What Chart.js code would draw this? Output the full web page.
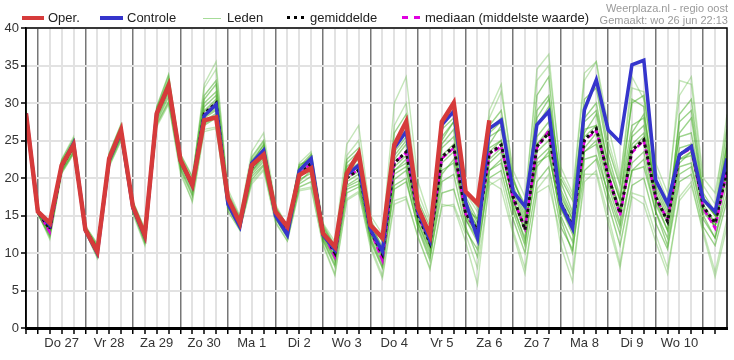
<!DOCTYPE html>
<html>
<head>
<meta charset="utf-8">
<script src="https://cdn.jsdelivr.net/npm/chart.js@4.4.1/dist/chart.umd.min.js"></script>
<style>
  html, body { margin: 0; padding: 0; background: #fff; }
  #wrap { position: relative; width: 734px; height: 360px; font-family: "Liberation Sans", Arial, sans-serif; }
  #c { position: absolute; left: 0; top: 0; }
  .lg { position: absolute; top: 10px; font-size: 13px; color: #222; line-height: 16px; white-space: nowrap; }
  .sw { position: absolute; }
  .src { position: absolute; right: 6px; font-size: 11px; color: #9a9a9a; line-height: 12px; white-space: nowrap; }
</style>
</head>
<body>
<div id="wrap">
  <canvas id="c" width="734" height="360"></canvas>
  <div class="sw" style="left:22px;top:16px;width:22px;height:4px;background:#d63b3b"></div>
  <div class="lg" style="left:48px">Oper.</div>
  <div class="sw" style="left:100px;top:16px;width:23px;height:4px;background:#3535cc"></div>
  <div class="lg" style="left:127px">Controle</div>
  <div class="sw" style="left:203px;top:18px;width:18px;height:1px;background:#a6dc98"></div>
  <div class="lg" style="left:227px">Leden</div>
  <div class="sw" style="left:287px;top:16px;width:17px;border-top:3px dotted #000"></div>
  <div class="lg" style="left:310px">gemiddelde</div>
  <div class="sw" style="left:402px;top:16px;width:18px;border-top:3px dashed #e000e0"></div>
  <div class="lg" style="left:425px">mediaan (middelste waarde)</div>
  <div class="src" style="top:2px">Weerplaza.nl - regio oost</div>
  <div class="src" style="top:14px">Gemaakt: wo 26 jun 22:13</div>
</div>
<script>
// 6-hourly steps from wo 26 jun 18:00 to do 11 jul 12:00 (index 0..59)
const dayLabels = ["Do 27", "Vr 28", "Za 29", "Zo 30", "Ma 1", "Di 2", "Wo 3", "Do 4", "Vr 5", "Za 6", "Zo 7", "Ma 8", "Di 9", "Wo 10"];
const yTicks = [0, 5, 10, 15, 20, 25, 30, 35, 40];

const oper = [28.6, 15.5,14.0,21.7,24.4, 13.1,10.2,22.6,26.4, 16.2,12.4,28.6,32.3, 22.4,19.1,27.7,28.1,
  17.3,14.0,21.7,23.1, 15.5,13.5,20.4,21.3, 12.6,10.8,20.6,23.3, 13.7,12.0,24.4,27.5, 16.0,12.4,27.5,30.0,
  18.2,16.6,27.7];

const controle = [28.6, 15.5,13.7,21.6,24.6, 13.0,10.0,22.4,26.2, 16.0,12.2,28.6,32.2, 22.3,19.0,28.3,29.8,
  16.5,13.5,22.0,23.7, 15.0,12.4,21.0,22.6, 12.4,10.4,20.4,21.7, 13.1,10.2,24.0,26.2, 15.5,11.7,27.1,28.9,
  16.8,12.0,26.6,27.7, 18.2,16.2,27.1,28.9, 16.6,13.3,29.1,33.1, 26.4,24.8,35.1,35.7, 19.7,16.6,23.1,24.2,
  17.1,15.5,22.6];

const gemiddelde = [28.6, 15.5,13.2,21.5,24.3, 13.2,10.4,22.5,26.2, 16.3,12.3,28.5,32.2, 22.3,19.0,28.6,30.0,
  16.9,14.0,21.4,23.4, 15.4,12.9,20.4,22.0, 12.8,10.0,20.0,21.1, 13.0,9.8,22.0,23.5, 15.0,11.3,22.8,24.2,
  15.3,13.1,23.3,24.4, 17.5,13.1,24.2,26.0, 16.6,13.7,25.1,26.6, 20.2,15.3,23.7,25.1, 17.5,14.2,23.1,24.2,
  16.2,14.0,21.0];

const mediaan = [28.6, 15.5,12.8,21.5,24.3, 13.2,10.3,22.5,26.2, 16.3,12.3,28.5,32.1, 22.3,19.0,28.5,29.8,
  16.9,14.0,21.4,23.4, 15.4,12.9,20.4,22.0, 12.7,9.5,20.0,21.2, 13.0,9.0,22.0,23.4, 15.0,11.5,22.6,24.0,
  15.2,12.8,23.2,24.2, 17.3,13.3,24.0,26.3, 16.5,13.5,25.0,26.3, 20.5,15.0,23.4,25.0, 17.3,14.5,23.0,24.0,
  16.0,13.3,21.0];

// ensemble members; the last four are the outliers, drawn paler
const leden = [
  [29.0, 15.7,13.6,22.0,25.0, 13.4,10.8,22.9,26.8, 16.6,12.8,29.2,33.0, 22.8,19.5,30.5,32.5, 17.5,14.5,22.8,25.0,
   16.0,13.2,21.2,23.0, 13.5,10.8,22.5,24.0, 14.0,10.5,26.0,28.5, 16.5,12.5,25.0,27.5, 17.0,14.0,26.5,28.0,
   19.0,15.0,29.0,31.0, 19.5,15.5,30.5,32.0, 23.0,17.5,27.0,28.0, 18.5,15.0,27.5,29.0, 17.5,15.0,24.0],
  [28.5, 15.2,12.2,20.8,23.4, 12.9,9.6,21.8,25.3, 15.6,11.4,27.2,30.2, 21.2,17.6,27.0,28.0, 16.0,13.3,19.8,21.6,
   14.6,12.0,18.8,19.5, 11.8,8.5,18.0,18.8, 11.5,8.0,18.5,19.5, 13.5,9.5,18.0,18.5, 13.0,10.5,20.0,21.0,
   14.5,10.0,19.5,21.5, 13.5,10.5,21.0,22.5, 16.5,11.0,19.0,20.0, 14.0,10.5,19.5,20.5, 13.5,11.0,17.0],
  [28.8, 15.6,13.5,21.8,24.6, 13.3,10.6,22.8,26.5, 16.4,12.6,28.8,32.8, 22.5,19.2,29.5,31.0, 17.0,14.2,21.8,24.0,
   15.6,13.1,21.0,22.8, 13.0,10.4,21.0,22.5, 13.5,10.2,23.5,25.5, 15.5,12.0,24.5,26.5, 16.0,14.5,26.0,27.5,
   18.0,14.0,22.0,23.0, 16.0,12.5,23.5,25.0, 19.0,14.0,26.0,28.5, 19.5,16.0,25.5,26.0, 17.0,15.0,23.0],
  [28.6, 15.4,12.8,21.2,24.0, 13.0,10.2,22.2,25.8, 16.0,12.0,28.0,31.5, 22.0,18.6,28.0,29.0, 16.6,13.6,20.8,22.5,
   15.0,12.6,19.5,21.0, 12.2,9.2,19.0,20.0, 12.5,9.0,20.5,21.5, 14.0,10.5,21.0,22.0, 14.5,12.0,24.5,27.0,
   19.5,16.5,28.0,30.5, 20.0,17.0,29.5,33.0, 24.0,19.0,30.0,31.0, 20.0,16.5,24.0,24.5, 16.0,13.5,20.5],
  [28.7, 15.5,13.0,21.4,24.2, 13.1,10.5,22.5,26.0, 16.2,12.2,28.4,32.0, 22.0,19.0,28.3,29.5, 16.8,13.8,21.0,22.8,
   15.2,12.8,20.5,21.5, 12.5,9.6,20.5,21.5, 12.8,9.5,21.5,23.0, 15.0,11.0,23.0,24.5, 14.5,11.5,21.0,22.0,
   16.0,12.0,25.5,27.5, 17.0,14.0,26.5,27.0, 20.5,16.0,22.0,23.5, 16.5,13.0,22.0,23.5, 15.5,13.5,22.0],
  [28.9, 15.6,13.4,22.2,24.8, 13.4,10.9,23.0,26.6, 16.5,12.6,29.0,32.6, 22.6,19.4,30.0,31.5, 17.3,14.4,22.3,24.3,
   15.8,13.4,21.5,23.2, 13.2,10.6,22.0,23.5, 13.8,10.8,24.5,26.5, 16.0,12.2,25.5,27.5, 16.5,13.5,24.0,25.0,
   16.5,11.5,21.5,23.5, 15.0,11.5,22.5,23.0, 18.0,13.5,21.0,22.5, 15.5,12.0,21.5,22.0, 15.0,12.0,19.5],
  [28.6, 15.4,12.6,21.0,23.8, 13.0,10.0,22.0,25.6, 16.0,11.8,27.8,31.2, 21.8,18.3,27.6,28.6, 16.4,13.5,20.5,22.2,
   14.8,12.4,19.8,20.6, 12.0,9.0,18.8,19.6, 12.0,8.6,19.8,21.0, 14.0,10.0,20.5,22.5, 15.5,12.5,25.5,26.5,
   18.5,14.5,31.0,33.5, 18.0,14.5,28.0,30.0, 21.5,17.0,30.5,29.5, 17.0,13.0,28.5,30.5, 18.0,15.5,26.5],
  [29.1, 15.7,13.7,22.4,25.2, 13.6,11.2,23.3,27.2, 16.9,13.2,29.5,33.8, 23.2,20.2,31.0,33.0, 18.0,14.8,22.0,24.5,
   16.2,13.6,21.8,22.5, 13.8,11.0,21.5,23.0, 14.2,11.5,23.0,25.0, 17.0,13.5,26.5,28.0, 17.5,14.5,22.5,24.0,
   17.0,13.5,24.5,26.0, 17.5,14.5,26.0,28.5, 20.5,15.5,24.5,26.0, 19.0,15.5,22.5,23.0, 16.5,14.0,24.5],
  [28.5, 15.2,12.4,20.9,23.5, 12.9,9.8,22.0,25.5, 15.8,11.6,27.5,30.8, 21.5,17.9,27.2,28.2, 16.2,13.2,20.2,21.8,
   14.6,12.2,19.2,20.2, 11.6,8.2,18.5,19.2, 11.8,8.2,19.0,20.0, 13.2,9.0,19.5,20.5, 13.5,9.5,21.0,22.5,
   15.5,11.0,22.5,24.0, 14.5,10.0,23.5,24.5, 17.5,12.5,21.0,21.5, 15.5,11.0,20.5,21.5, 14.5,12.0,18.0],
  [28.7, 15.5,13.2,21.6,24.4, 13.2,10.6,22.6,26.3, 16.4,12.4,28.6,32.4, 22.4,19.1,29.0,30.5, 17.1,14.1,21.6,23.6,
   15.5,13.0,20.8,22.4, 12.9,10.2,20.8,22.0, 13.3,10.0,22.5,24.5, 15.5,11.5,24.0,25.5, 16.0,13.5,27.0,29.0,
   20.0,15.5,27.0,29.5, 18.5,15.0,27.5,29.0, 22.0,17.0,25.5,27.0, 18.0,14.5,26.0,28.0, 17.0,15.0,25.0],
  [28.6, 15.4,12.9,21.3,24.1, 13.1,10.3,22.3,26.0, 16.1,12.1,28.2,31.8, 22.2,18.8,28.2,29.2, 16.7,13.7,20.9,23.0,
   15.1,12.7,20.0,21.8, 12.4,9.5,20.0,20.8, 12.6,9.4,21.0,22.5, 14.5,10.8,22.0,23.5, 14.8,12.5,22.0,23.5,
   17.0,13.0,23.5,25.0, 16.0,13.0,24.0,26.0, 19.5,15.0,23.5,25.0, 17.0,14.5,23.0,24.0, 16.0,14.0,21.0],
  [28.6, 15.5,13.1,21.5,24.3, 13.2,10.4,22.4,26.1, 16.3,12.3,28.6,32.2, 22.3,18.9,28.8,30.2, 16.9,14.0,21.3,23.3,
   15.3,12.9,20.3,21.9, 12.7,10.0,19.5,20.5, 12.8,9.8,21.0,22.0, 15.5,11.0,22.5,24.0, 15.0,12.5,23.5,25.0,
   17.0,13.0,24.5,26.5, 17.0,13.5,25.5,27.0, 20.5,15.5,24.0,25.5, 17.0,14.0,22.5,23.5, 16.0,13.5,21.5],
  [29.3, 15.8,13.9,22.5,25.5, 13.5,11.0,23.2,27.0, 16.8,13.0,29.3,33.5, 23.0,20.0,32.0,34.5, 18.5,15.0,23.5,26.0,
   16.5,13.5,22.0,23.5, 14.0,11.5,24.5,27.0, 15.0,12.5,30.0,33.5, 19.5,14.5,27.5,29.5, 18.0,15.5,28.0,31.5,
   21.0,17.5,33.0,35.0, 21.5,18.0,34.0,35.5, 27.0,20.0,32.0,31.5, 22.0,18.0,31.0,33.5, 20.0,18.0,27.0],
  [28.4, 15.3,12.0,20.6,23.2, 12.8,9.3,21.6,25.0, 15.2,11.0,26.8,29.8, 20.5,17.0,26.5,26.8, 15.6,13.0,19.5,21.2,
   14.2,11.6,18.5,18.8, 11.2,7.2,17.2,18.2, 10.6,6.6,16.5,17.2, 12.2,7.8,16.5,16.2, 11.5,5.8,19.5,18.5,
   12.5,7.2,18.5,20.5, 11.0,6.2,20.5,20.5, 14.0,8.0,17.5,16.5, 11.5,7.2,17.5,19.5, 12.5,6.8,13.5],
  [29.0, 15.6,13.3,21.9,24.7, 13.3,10.7,22.8,26.6, 16.5,12.7,29.0,33.2, 22.7,19.6,32.5,35.5, 17.6,14.6,22.5,24.8,
   16.0,13.3,21.5,22.8, 13.5,10.8,23.0,25.0, 14.5,11.5,27.0,30.0, 18.0,14.0,27.5,29.0, 18.5,16.0,29.0,32.5,
   20.0,16.0,34.5,36.5, 20.5,17.5,33.0,35.5, 25.0,19.5,33.5,30.5, 21.0,17.0,33.0,32.5, 19.0,16.5,28.5],
  [28.4, 15.3,11.8,20.6,23.2, 12.8,9.4,21.5,25.0, 15.4,11.2,27.0,30.0, 21.0,16.8,26.2,26.6, 15.6,13.1,19.2,21.0,
   14.0,11.6,18.3,18.6, 11.0,7.0,17.0,18.0, 11.0,7.0,17.0,17.5, 12.0,8.0,16.2,16.5, 12.5,8.0,19.0,20.0,
   13.0,8.0,18.0,19.0, 12.5,7.5,19.5,21.0, 15.0,8.5,18.0,17.5, 12.5,8.0,17.0,19.0, 13.0,7.5,14.5]
];

const steps = controle.map((_, i) => i);
const xy = arr => arr.map((v, i) => ({ x: steps[i], y: v }));

const datasets = [
  { label: "Oper.", data: xy(oper), borderColor: "#d63b3b", borderWidth: 4.5 },
  { label: "Controle", data: xy(controle), borderColor: "#3535cc", borderWidth: 3.5 },
  { label: "gemiddelde", data: xy(gemiddelde), borderColor: "#111", borderWidth: 3, borderDash: [3, 3] },
  { label: "mediaan", data: xy(mediaan), borderColor: "#e000e0", borderWidth: 2.5, borderDash: [6, 3] }
];
leden.forEach((m, k) => {
  const pale = k >= leden.length - 4;
  datasets.push({
    label: "Leden " + (k + 1),
    data: xy(m),
    borderColor: pale ? "rgba(100,190,70,0.38)" : "rgba(60,170,25,0.5)",
    borderWidth: 1.4
  });
});

// frame around the plot area (top and right edges)
const frame = {
  id: "frame",
  afterDraw(chart) {
    const a = chart.chartArea, ctx = chart.ctx;
    ctx.save();
    ctx.strokeStyle = "#000";
    ctx.lineWidth = 1.5;
    ctx.strokeRect(a.left, a.top, a.right - a.left, a.bottom - a.top);
    ctx.restore();
  }
};

new Chart(document.getElementById("c"), {
  type: "line",
  data: { datasets },
  options: {
    responsive: false,
    animation: false,
    devicePixelRatio: 1,
    elements: { point: { radius: 0 }, line: { tension: 0, fill: false } },
    layout: { padding: { top: 28, right: 7, left: 0, bottom: 0 } },
    plugins: { legend: { display: false }, tooltip: { enabled: false } },
    scales: {
      x: {
        type: "linear",
        min: 0,
        max: steps.length - 1,
        afterFit: s => { s.height = 32; },
        afterBuildTicks: s => { s.ticks = steps.map(v => ({ value: v })); },
        ticks: {
          autoSkip: false,
          maxRotation: 0,
          padding: 2,
          color: "#333",
          font: { family: "Liberation Sans, Arial", size: 13 },
          callback: v => (v - 3) % 4 === 0 ? dayLabels[(v - 3) / 4] : ""
        },
        grid: {
          color: c => (c.tick && c.tick.value % 4 === 1) ? "#777" : "#e2e2e2",
          lineWidth: c => (c.tick && c.tick.value % 4 === 1) ? 1.5 : 2,
          tickColor: "#000",
          tickLength: 6,
          tickWidth: 1.5
        },
        border: { color: "#000", width: 3 }
      },
      y: {
        min: 0,
        max: 40,
        afterFit: s => { s.width = 26; },
        afterBuildTicks: s => { s.ticks = yTicks.map(v => ({ value: v })); },
        ticks: {
          padding: 2,
          color: "#333",
          font: { family: "Liberation Sans, Arial", size: 13 }
        },
        grid: { color: "#e2e2e2", lineWidth: 2, tickColor: "#000", tickLength: 5, tickWidth: 1.5 },
        border: { color: "#000", width: 1.5 }
      }
    }
  },
  plugins: [frame]
});
</script>
</body>
</html>
